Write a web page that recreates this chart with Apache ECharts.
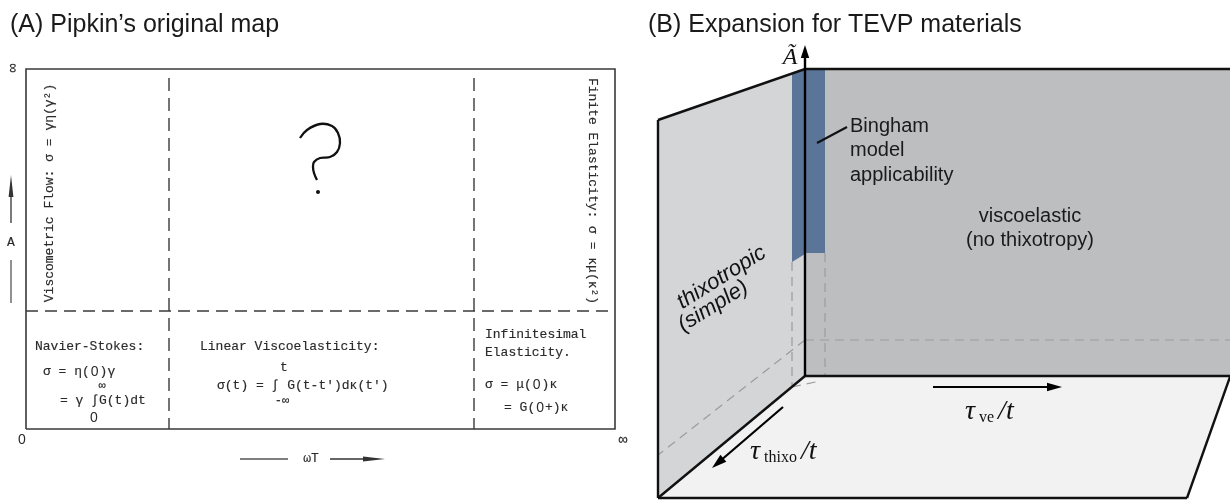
<!DOCTYPE html>
<html><head><meta charset="utf-8">
<script src="https://cdn.jsdelivr.net/npm/echarts@6/dist/echarts.min.js"></script>
<style>html,body{margin:0;padding:0;background:#fff}#c{width:1230px;height:502px}</style>
</head><body><div id="c"></div>
<script>
// ================= Panel A: Pipkin's original map =================
// map units: x along ωT (0 .. 589 = ∞), y along A (0 .. 360 = ∞)
const pipkinFrame = [[0,0],[589,0],[589,360],[0,360],[0,0]];
const pipkinDividersX = [143, 448];
const pipkinDividersY = [118];
const questionMarkStroke = [[274,291],[281,299],[294,305],[306,303],[312,296],[314,286],[311,277],[304,272],[294,271],[288,267],[287,262],[288,256],[291,249]];
const questionMarkDot = [292,237];
const pipkinCellTexts = [
  {t:'Navier-Stokes:', x:9, y:82},
  {t:'σ = η(0)γ', x:17, y:57},
  {t:'∞', x:76, y:43, align:'center', size:12},
  {t:'= γ ∫G(t)dt', x:34, y:28},
  {t:'0', x:68, y:11, align:'center'},
  {t:'Linear Viscoelasticity:', x:174, y:82},
  {t:'t', x:258, y:61, align:'center'},
  {t:"σ(t) = ∫ G(t-t')dκ(t')", x:191, y:43},
  {t:'-∞', x:256, y:28, align:'center', size:12},
  {t:'Infinitesimal', x:459, y:94},
  {t:'Elasticity.', x:459, y:76},
  {t:'σ = μ(0)κ', x:459, y:44},
  {t:'= G(0+)κ', x:478, y:21},
  {t:'Viscometric Flow: σ = γη(γ²)', x:24, y:236, align:'center', rot:90},
  {t:'Finite Elasticity: σ = κμ(κ²)', x:566, y:238, align:'center', rot:-90}
];
const pipkinAxisTexts = [
  {t:'∞', x:-13, y:361, align:'center', rot:90, size:15},
  {t:'0', x:-4, y:-11, align:'center'},
  {t:'∞', x:597, y:-11, align:'center', size:15},
  {t:'A', x:-15, y:186, align:'center'},
  {t:'ωT', x:285, y:-30, align:'center'}
];
const pipkinAxisLines = [ [[-15,169],[-15,126]], [[214,-30],[262,-30]] ];
const pipkinAxisArrows = [ [[-15,206],[-15,254]], [[304,-30],[359,-30]] ];

// ================= Panel B: expansion for TEVP materials =================
// diagram units: x 0..590, y 0..462 (y up)
const wallLeft  = [[18,382],[165,433],[165,126],[18,4]];
const wallBack  = [[165,433],[590,433],[590,126],[165,126]];
const floorPlane = [[165,126],[590,126],[547,4],[18,4]];
const binghamStripLeft = [[152,428.5],[165,433],[165,248],[152,240]];
const binghamStripBack = [[165,433],[185,433],[185,249],[165,249]];
const hiddenEdges = [
  [[152,240],[152,115]], [[185,249],[185,126]], [[165,162],[590,162]],
  [[165,162],[18,47]], [[152,115],[180,121]]
];
const visibleEdges = [
  [[18,382],[165,433],[590,433]], [[18,382],[18,4]], [[165,126],[18,4]],
  [[165,126],[590,126]], [[18,4],[547,4]], [[590,125],[547,4]]
];
const axisATilde = [[165,126],[165,457]];
const arrowThixo = [[143,95],[72,34]];
const arrowVe = [[293,115],[422,115]];
const binghamLeader = [[177,359],[207,375]];
const binghamLabel = ['Bingham','model','applicability'];
const viscoLabel = ['viscoelastic','(no thixotropy)'];
const thixoLabel = ['thixotropic','(simple)'];

// ---------- shape lists ----------
const INK_A = '#3a3a3a';
const MONO = '"Liberation Mono","DejaVu Sans Mono",monospace';
const SANS = '"Liberation Sans",Arial,sans-serif';
const SERIF = '"Liberation Serif","DejaVu Serif",serif';

const shapesA = [];
shapesA.push({kind:'line', pts:pipkinFrame, stroke:INK_A, w:1.6});
pipkinDividersX.forEach(x => shapesA.push({kind:'line', pts:[[x,351],[x,0]], stroke:INK_A, w:1.4, dash:[13,7]}));
pipkinDividersY.forEach(y => shapesA.push({kind:'line', pts:[[0,y],[589,y]], stroke:INK_A, w:1.4, dash:[12,7]}));
shapesA.push({kind:'line', pts:questionMarkStroke, stroke:'#111', w:2.3, smooth:0.4});
shapesA.push({kind:'dot', p:questionMarkDot, r:2, fill:'#111'});
pipkinAxisLines.forEach(l => shapesA.push({kind:'line', pts:l, stroke:'#555', w:1.3}));
pipkinAxisArrows.forEach(l => shapesA.push({kind:'arrow', pts:l, stroke:'#333', w:1.3, L:22, W:2.4}));
// typewriter zero drawn round (undotted)
function typewriter(s) {
  return s.replace(/[{}|]/g, '').split('0').map(p => p ? '{m|' + p + '}' : '').join('{z|0}');
}
pipkinCellTexts.concat(pipkinAxisTexts).forEach(o => {
  const size = o.size || 13;
  shapesA.push({kind:'text', t:typewriter(o.t), x:o.x, y:o.y, align:o.align||'left', rot:o.rot||0,
    fill:'#262626', rich:{
      m:{fontFamily:MONO, fontSize:size, fill:'#2a2a2a', stroke:'#2a2a2a', lineWidth:0.15},
      z:{fontFamily:SANS, fontSize:size+1, fill:'#2a2a2a', padding:[0,1,0,1]}
    }});
});

const shapesB = [];
shapesB.push({kind:'poly', pts:floorPlane, fill:'#f2f2f2'});
shapesB.push({kind:'poly', pts:wallBack, fill:'#bdbec0'});
shapesB.push({kind:'poly', pts:wallLeft, fill:'#d4d5d7'});
shapesB.push({kind:'poly', pts:binghamStripLeft, fill:'#5a7598'});
shapesB.push({kind:'poly', pts:binghamStripBack, fill:'#5a7598'});
hiddenEdges.forEach(l => shapesB.push({kind:'line', pts:l, stroke:'#9c9c9c', w:1.2, dash:[9,6]}));
visibleEdges.forEach(l => shapesB.push({kind:'line', pts:l, stroke:'#111', w:2.4}));
shapesB.push({kind:'arrow', pts:axisATilde, stroke:'#000', w:2.4, L:13, W:4.2});
shapesB.push({kind:'arrow', pts:arrowThixo, stroke:'#000', w:2.2, L:15, W:4.5});
shapesB.push({kind:'arrow', pts:arrowVe, stroke:'#000', w:2.2, L:15, W:4.2});
shapesB.push({kind:'line', pts:binghamLeader, stroke:'#111', w:2.2});
shapesB.push({kind:'text', t:'Ã', x:150, y:444, align:'center', font:'italic 24px '+SERIF, fill:'#111'});
binghamLabel.forEach((s,i) => shapesB.push({kind:'text', t:s, x:210, y:376-24.5*i, align:'left', font:'20px '+SANS, fill:'#1a1a1a'}));
viscoLabel.forEach((s,i) => shapesB.push({kind:'text', t:s, x:390, y:286-24*i, align:'center', font:'20px '+SANS, fill:'#1a1a1a'}));
thixoLabel.forEach((s,i) => shapesB.push({kind:'text', t:s, x:[39,40][i], y:[198,175][i], align:'left', rot:32, font:'italic 22px '+SANS, fill:'#111'}));
const tauRich = {
  g:{fontFamily:SERIF, fontStyle:'italic', fontSize:28, fill:'#111'},
  s:{fontFamily:SERIF, fontSize:16, fill:'#111', verticalAlign:'bottom'}
};
shapesB.push({kind:'text', t:'{g|τ}{s| thixo }{g|/t}', x:110, y:50, align:'left', rich:tauRich});
shapesB.push({kind:'text', t:'{g|τ}{s| ve }{g|/t}', x:325, y:90, align:'left', rich:tauRich});

// ---------- renderer ----------
function arrowEl(p0, p1, stroke, w, L, W) {
  const dx = p1[0]-p0[0], dy = p1[1]-p0[1], len = Math.hypot(dx,dy), ux = dx/len, uy = dy/len;
  const bx = p1[0]-ux*L, by = p1[1]-uy*L;
  return {type:'group', children:[
    {type:'line', shape:{x1:p0[0], y1:p0[1], x2:bx+ux*2, y2:by+uy*2}, style:{stroke, lineWidth:w}},
    {type:'polygon', shape:{points:[[p1[0],p1[1]],[bx-uy*W, by+ux*W],[bx+uy*W, by-ux*W]]}, style:{fill:stroke}}
  ]};
}
function renderShape(s, api) {
  const P = p => api.coord(p);
  if (s.kind === 'poly') return {type:'polygon', shape:{points:s.pts.map(P)}, style:{fill:s.fill}};
  if (s.kind === 'line') return {type:'polyline', shape:{points:s.pts.map(P), smooth:s.smooth||0},
    style:{stroke:s.stroke, lineWidth:s.w, lineDash:s.dash||null, fill:null}};
  if (s.kind === 'dot') { const c = P(s.p); return {type:'circle', shape:{cx:c[0], cy:c[1], r:s.r}, style:{fill:s.fill}}; }
  if (s.kind === 'arrow') return arrowEl(P(s.pts[0]), P(s.pts[1]), s.stroke, s.w, s.L, s.W);
  if (s.kind === 'text') {
    const c = P([s.x, s.y]);
    const style = {text:s.t, align:s.align, verticalAlign:'middle', fill:s.fill||'#111'};
    if (s.font) style.font = s.font;
    if (s.rich) style.rich = s.rich;
    return {type:'text', x:c[0], y:c[1], rotation:(s.rot||0)*Math.PI/180, style};
  }
  return null;
}
function shapeSeries(idx, shapes) {
  return {type:'custom', coordinateSystem:'cartesian2d', xAxisIndex:idx, yAxisIndex:idx,
    clip:false, silent:true, animation:false,
    data: shapes.map((s,i) => [i, 0]),
    renderItem: (params, api) => renderShape(shapes[params.dataIndex], api)};
}

const chart = echarts.init(document.getElementById('c'), null, {renderer:'canvas'});
chart.setOption({
  animation:false,
  backgroundColor:'#ffffff',
  grid:[{left:26, top:69, width:589, height:360}, {left:640, top:40, width:590, height:462}],
  xAxis:[{gridIndex:0, type:'value', min:0, max:589, show:false}, {gridIndex:1, type:'value', min:0, max:590, show:false}],
  yAxis:[{gridIndex:0, type:'value', min:0, max:360, show:false}, {gridIndex:1, type:'value', min:0, max:462, show:false}],
  graphic:[
    {type:'text', left:10, top:13, style:{text:'(A) Pipkin’s original map', font:'25px '+SANS, fill:'#1a1a1a'}},
    {type:'text', left:648, top:13, style:{text:'(B) Expansion for TEVP materials', font:'25px '+SANS, fill:'#1a1a1a'}}
  ],
  series:[shapeSeries(0, shapesA), shapeSeries(1, shapesB)]
});
</script></body></html>
